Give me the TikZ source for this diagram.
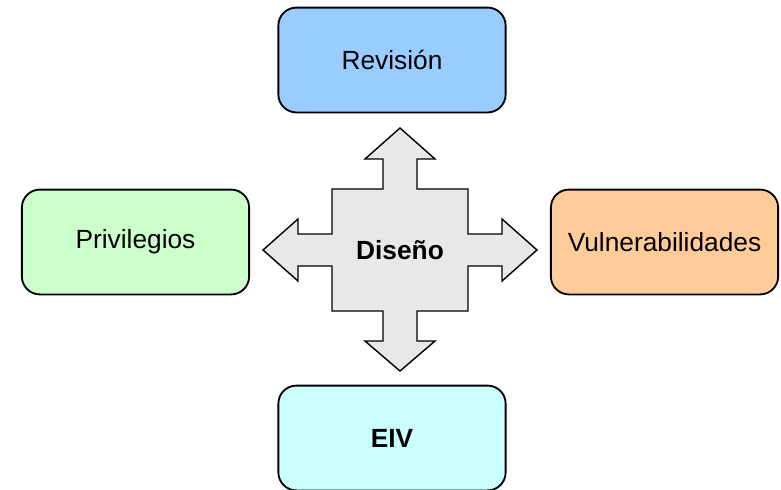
\documentclass[tikz,border=0pt]{standalone}
\usepackage{fontspec}
\setmainfont{Liberation Sans}
\usetikzlibrary{positioning}
\definecolor{dsblue}{HTML}{99CCFF}
\definecolor{dsgreen}{HTML}{CCFFCC}
\definecolor{dsorange}{HTML}{FFCC99}
\definecolor{dscyan}{HTML}{CCFFFF}
\definecolor{dsgray}{HTML}{E8E8E8}
\begin{document}
\begin{tikzpicture}[x=0.025cm, y=-0.025cm, font=\fontsize{18.7}{22}\selectfont,
      bx/.style={draw=black, line width=1.3pt, rounded corners=0.45cm, minimum width=5.68cm, minimum height=2.62cm, inner sep=0pt},
      cross/.style={draw=black, line width=1pt, fill=dsgray, line join=miter}]
      \useasboundingbox (0,0) rectangle (781,489);
      \node[bx, fill=dsblue] (rev) at (392,60) {Revisión};
      \node[bx, fill=dsgreen] (priv) at (135.5,242) {Privilegios};
      \node[bx, fill=dsorange] (vuln) at (664.5,242) {Vulnerabilidades};
      \node[bx, fill=dscyan] (eiv) at (392,438) {\textbf{EIV}};

      \draw[cross] (400,128) -- (435,159) -- (417,159) -- (417,189) -- (468,189) -- (468,234)
        -- (502,234) -- (502,219) -- (537,250) -- (502,281) -- (502,266) -- (468,266)
        -- (468,311) -- (417,311) -- (417,341) -- (435,341) -- (400,371) -- (365,341)
        -- (383,341) -- (383,311) -- (332,311) -- (332,266) -- (298,266) -- (298,281)
        -- (263,250) -- (298,219) -- (298,234) -- (332,234) -- (332,189) -- (383,189)
        -- (383,159) -- (365,159) -- cycle;
      \node (dis) at (400,250) {\textbf{Diseño}};
    \end{tikzpicture}
\end{document}
